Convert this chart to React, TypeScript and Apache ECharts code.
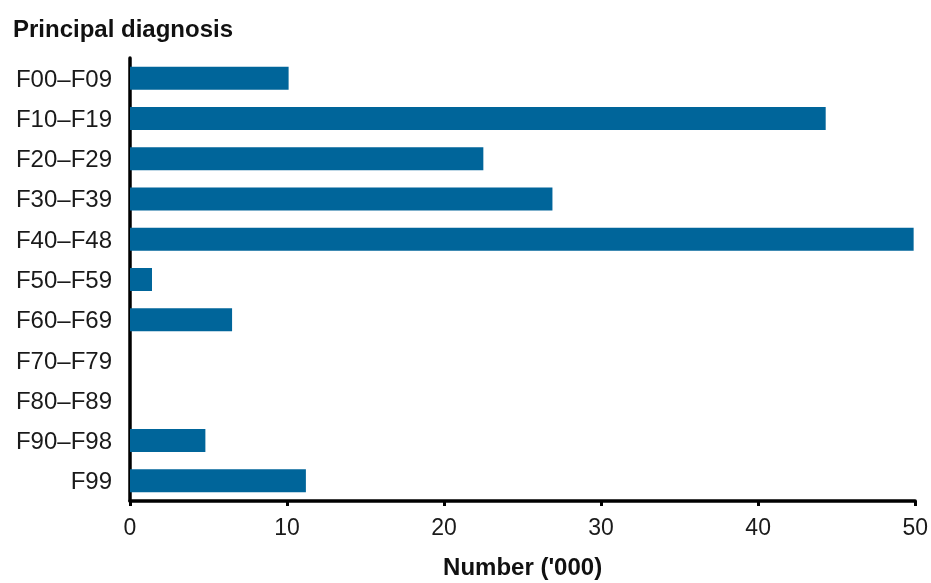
import React, { useEffect, useRef } from "react";
import * as echarts from "echarts";

const categories = ["F00–F09", "F10–F19", "F20–F29", "F30–F39", "F40–F48", "F50–F59", "F60–F69", "F70–F79", "F80–F89", "F90–F98", "F99"];
const values = [10.1, 44.3, 22.5, 26.9, 49.9, 1.4, 6.5, 0, 0, 4.8, 11.2];
const xTicks = [0, 10, 20, 30, 40, 50];

export default function App() {
  const ref = useRef<HTMLDivElement>(null);
  useEffect(() => {
    const chart = echarts.init(ref.current!, null, { renderer: "svg" });
    const font = "Liberation Sans, Arial, sans-serif";
    chart.setOption({
      animation: false,
      textStyle: { fontFamily: font },
      title: {
        text: "Principal diagnosis",
        left: 8,
        top: 11,
        textStyle: { fontSize: 24, fontWeight: "bold", color: "#111", fontFamily: font },
      },
      grid: { left: 130, right: 13, top: 58, bottom: 74, containLabel: false },
      xAxis: {
        type: "value",
        min: xTicks[0],
        max: xTicks[xTicks.length - 1],
        interval: 10,
        name: "Number ('000)",
        nameLocation: "middle",
        nameGap: 53,
        nameTextStyle: { fontSize: 24, fontWeight: "bold", color: "#111", fontFamily: font },
        axisLine: { show: true, lineStyle: { color: "#000", width: 3.5 } },
        axisTick: { show: true, length: 5, lineStyle: { color: "#000", width: 3 } },
        axisLabel: { fontSize: 23, color: "#1a1a1a", margin: 14, fontFamily: font },
        splitLine: { show: false },
      },
      yAxis: {
        type: "category",
        data: categories,
        inverse: true,
        axisLine: { show: true, lineStyle: { color: "#000", width: 3.5 } },
        axisTick: { show: false },
        axisLabel: { fontSize: 24, color: "#1a1a1a", margin: 18, fontFamily: font },
      },
      series: [
        {
          type: "bar",
          data: values,
          barWidth: 23,
          itemStyle: { color: "#00659A" },
        },
      ],
    });
    return () => chart.dispose();
  }, []);
  return (
    <div
      ref={ref}
      style={{ position: "fixed", left: 0, top: 0, width: 931, height: 583 }}
    />
  );
}
